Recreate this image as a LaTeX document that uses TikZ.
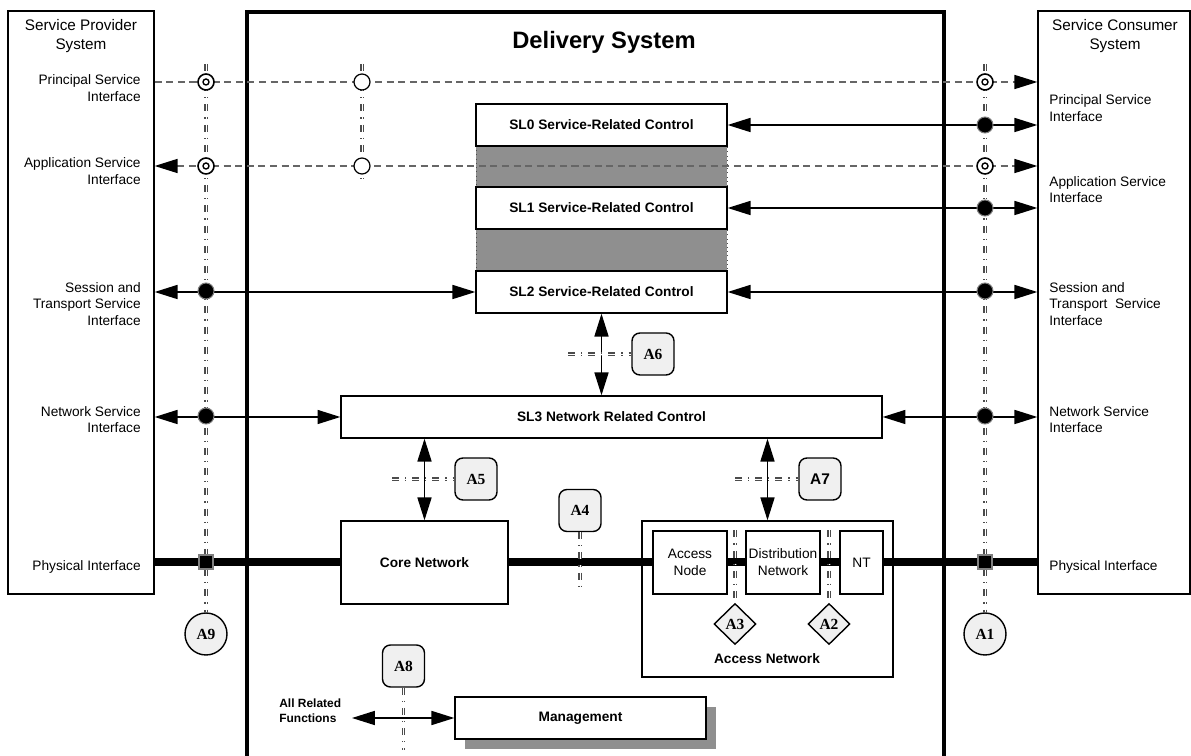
\documentclass[tikz,border=0pt]{standalone}
\usepackage{fontspec}
\setmainfont{Liberation Sans}
\newfontfamily\serifbf{Liberation Serif}
\usetikzlibrary{arrows.meta,shapes.geometric,shadows}

\begin{document}
\begin{tikzpicture}[x=0.02cm, y=-0.02cm, >={Triangle[length=13pt,width=8pt,color=black]},
    lab/.style={font=\fontsize{7.8}{9.4}\selectfont, inner sep=0pt},
    ttl/.style={font=\fontsize{8.7}{10.8}\selectfont, align=center, inner sep=0pt},
    boldlab/.style={font=\fontsize{7.8}{9.4}\selectfont\bfseries, inner sep=0pt},
    sysbox/.style={draw, line width=0.8pt, inner sep=0pt},
    blk/.style={draw, line width=0.8pt, fill=white, inner sep=0pt, align=center, font=\fontsize{7.8}{9.6}\selectfont},
    slbox/.style={blk, minimum width=5.02cm, minimum height=0.84cm, font=\fontsize{7.8}{9.4}\selectfont\bfseries},
    gapfill/.style={fill=black!44, draw=black!70, dotted},
    refbase/.style={draw, line width=0.8pt, fill=black!6, inner sep=0pt, font=\serifbf\bfseries\fontsize{8.8}{10}\selectfont},
    refbox/.style={refbase, rounded corners=4.5pt, minimum size=0.84cm},
    refcirc/.style={refbase, circle, minimum size=0.84cm},
    refdiam/.style={refbase, diamond, minimum width=0.84cm, minimum height=0.82cm},
    refline/.style={draw=black!70, line width=1.8pt, dash pattern=on 4pt off 3.4pt on 0.7pt off 3.4pt,
      postaction={draw=white, line width=0.5pt, dash pattern=on 4pt off 3.4pt on 0.7pt off 3.4pt}},
    ifline/.style={draw=black!60, line width=0.7pt, dash pattern=on 4pt off 2.6pt},
    conn/.style={line width=0.8pt},
    dotring/.style={circle, draw, line width=0.9pt, fill=white, minimum size=0.32cm, inner sep=0pt,
      path picture={\draw[line width=0.8pt] (path picture bounding box.center) circle (1.7pt);}},
    opendot/.style={circle, draw, line width=0.7pt, fill=white, minimum size=0.32cm, inner sep=0pt},
    solidpt/.style={circle, draw=black!50, line width=0.6pt, fill=black, minimum size=0.32cm, inner sep=0pt},
    sqpt/.style={rectangle, draw=black!50, line width=0.6pt, fill=black, minimum size=0.28cm, inner sep=0pt}
  ]
    \useasboundingbox (0,0) rectangle (1191,756);

    % provider and consumer
    \node[sysbox, minimum width=2.92cm, minimum height=11.66cm] (prov) at (81,302.5) {};
    \node[sysbox, minimum width=3.04cm, minimum height=11.66cm] (cons) at (1114,302.5) {};
    \node[ttl] (provttl) at (81,36.5) {Service Provider\\System};
    \node[ttl] (consttl) at (1115,36.5) {Service Consumer\\System};

    % delivery system
    \draw[line width=1.8pt] (247,780) -- (247,12) -- (944,12) -- (944,780);
    \node[font=\fontsize{13.5}{16}\selectfont\bfseries] (delttl) at (604,42) {Delivery System};

    \coordinate (rowP) at (0,82);
    \coordinate (rowA) at (0,166);
    \coordinate (rowPhy) at (0,562);

    % control layers
    \draw[gapfill] (476,146) rectangle (727,188);
    \draw[gapfill] (476,229) rectangle (727,271);
    \node[slbox] (sl0) at (601.5,125) {SL0 Service-Related Control};
    \node[slbox] (sl1) at (601.5,208) {SL1 Service-Related Control};
    \node[slbox] (sl2) at (601.5,292) {SL2 Service-Related Control};
    \node[slbox, minimum width=10.82cm] (sl3) at (611.5,417) {SL3 Network Related Control};

    % interfaces
    \draw[ifline, ->] (prov.east |- rowP) -- (cons.west |- rowP);
    \draw[ifline, <->] (prov.east |- rowA) -- (cons.west |- rowA);
    \draw[conn, <->] (sl0.east) -- (cons.west |- sl0.east);
    \draw[conn, <->] (sl1.east) -- (cons.west |- sl1.east);
    \draw[conn, <->] (prov.east |- sl2.west) -- (sl2.west);
    \draw[conn, <->] (sl2.east) -- (cons.west |- sl2.east);
    \draw[conn, <->] (prov.east |- sl3.west) -- (sl3.west);
    \draw[conn, <->] (sl3.east) -- (cons.west |- sl3.east);
    \draw[conn, <->] (sl2.south) -- (sl2.south |- sl3.north);

    % transport
    \node[draw, line width=0.8pt, minimum width=5.02cm, minimum height=3.12cm] (accnet) at (767.5,599) {};
    \draw[line width=4pt] (prov.east |- rowPhy) -- (cons.west |- rowPhy);
    \node[blk, minimum width=3.34cm, minimum height=1.66cm, font=\fontsize{7.8}{9.4}\selectfont\bfseries] (core) at (424.5,562.5) {Core Network};
    \node[blk, minimum width=1.48cm, minimum height=1.26cm] (accnode) at (690,562.5) {Access\\Node};
    \node[blk, minimum width=1.48cm, minimum height=1.26cm] (distnet) at (783,562.5) {Distribution\\Network};
    \node[blk, minimum width=0.86cm, minimum height=1.26cm] (nt) at (861.5,562.5) {NT};
    \node[boldlab] (accnetlab) at (767,659) {Access Network};
    \draw[conn, <->] (core.north |- sl3.south) -- (core.north);
    \draw[conn, <->] (accnet.north |- sl3.south) -- (accnet.north);

    % reference points
    \node[refbox] (a6) at (653,354) {A6};
    \node[refbox] (a5) at (476,479) {A5};
    \node[refbox, font=\fontsize{8.8}{10}\selectfont\bfseries] (a7) at (820,479) {A7};
    \node[refbox] (a4) at (580,510.5) {A4};
    \node[refbox] (a8) at (403.5,666) {A8};
    \node[refcirc] (a9) at (206,634) {A9};
    \node[refcirc] (a1) at (985,634) {A1};
    \node[refdiam] (a3) at (735,624) {A3};
    \node[refdiam] (a2) at (829,624) {A2};

    \coordinate (top1) at (206,64);
    \coordinate (top2) at (362,64);
    \coordinate (bot2) at (362,181);
    \coordinate (top3) at (985,64);
    \coordinate (a4end) at (580,590);
    \coordinate (a8end) at (403.5,750);
    \coordinate (a6ref) at (568,354);
    \coordinate (a5ref) at (392,479);
    \coordinate (a7ref) at (735,479);
    \draw[refline] (top1) -- (a9.north);
    \draw[refline] (top2) -- (bot2);
    \draw[refline] (top3) -- (a1.north);
    \draw[refline] (a4.south) -- (a4end);
    \draw[refline] (a3 |- distnet.north) -- (a3.north);
    \draw[refline] (a2 |- nt.north) -- (a2.north);
    \draw[refline] (a8.south) -- (a8end);
    \draw[refline] (a6ref) -- (a6.west);
    \draw[refline] (a5ref) -- (a5.west);
    \draw[refline] (a7ref) -- (a7.west);

    % management
    \node[blk, minimum width=5.02cm, minimum height=0.84cm, font=\fontsize{7.8}{9.4}\selectfont\bfseries,
      drop shadow={shadow xshift=0.2cm, shadow yshift=-0.2cm, fill=black!44, opacity=1}] (mgmt) at (580.5,718) {Management};
    \coordinate (funcs) at (352,718);
    \node[anchor=west, align=left, inner sep=0pt, font=\fontsize{6.8}{8.5}\selectfont\bfseries] (funcslab) at (279,711) {All Related\\Functions};
    \draw[conn, <->] (funcs) -- (mgmt.west);

    % interface points
    \node[dotring] (ps1) at (206,82) {};
    \node[opendot] (ps2) at (362,82) {};
    \node[dotring] (ps3) at (985,82) {};
    \node[dotring] (as1) at (206,166) {};
    \node[opendot] (as2) at (362,166) {};
    \node[dotring] (as3) at (985,166) {};
    \node[solidpt] (sp0) at (985,125) {};
    \node[solidpt] (sp1) at (985,208) {};
    \node[solidpt] (st1) at (206,291) {};
    \node[solidpt] (st2) at (985,291) {};
    \node[solidpt] (nw1) at (206,416) {};
    \node[solidpt] (nw2) at (985,416) {};
    \node[sqpt] (ph1) at (206,562) {};
    \node[sqpt] (ph2) at (985,562) {};

    % labels
    \node[lab, anchor=east, align=right] (lpsi) at (141,88) {Principal Service\\Interface};
    \node[lab, anchor=east, align=right] (lasi) at (141,171) {Application Service\\Interface};
    \node[lab, anchor=east, align=right] (lsti) at (141,304) {Session and\\Transport Service\\Interface};
    \node[lab, anchor=east, align=right] (lnsi) at (141,419.5) {Network Service\\Interface};
    \node[lab, anchor=east] (lphy) at (141,567) {Physical Interface};
    \node[lab, anchor=west, align=left] (rpsi) at (1049,108) {Principal Service\\Interface};
    \node[lab, anchor=west, align=left] (rasi) at (1049,189.5) {Application Service\\Interface};
    \node[lab, anchor=west, align=left] (rsti) at (1049,304) {Session and\\Transport\ \ Service\\Interface};
    \node[lab, anchor=west, align=left] (rnsi) at (1049,419.5) {Network Service\\Interface};
    \node[lab, anchor=west] (rphy) at (1049,567) {Physical Interface};
\end{tikzpicture}
\end{document}
